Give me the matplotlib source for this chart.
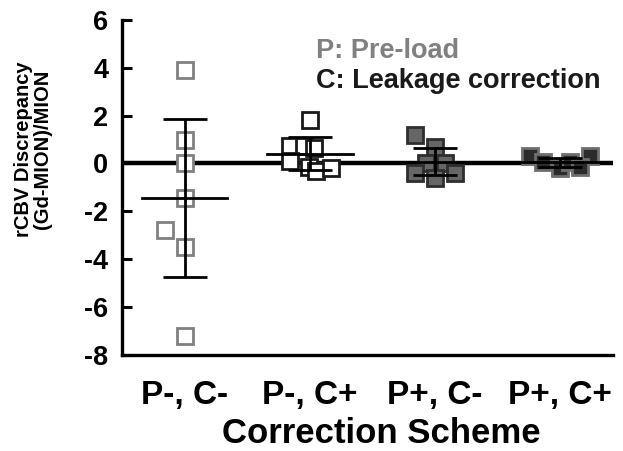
"""Scatter of rCBV discrepancy per correction scheme, with mean and SD bars."""

import matplotlib
matplotlib.use("Agg")
import matplotlib.pyplot as plt

plt.rcParams["font.family"] = ["Liberation Sans", "DejaVu Sans"]
plt.rcParams["font.weight"] = "bold"
plt.rcParams["axes.labelweight"] = "bold"
plt.rcParams["axes.unicode_minus"] = False

SCHEMES = ["P-, C-", "P-, C+", "P+, C-", "P+, C+"]

# individual subjects, with a small horizontal jitter as in the figure
VALUES = [
    [3.9, 1.0, 0.0, -1.45, -2.8, -3.5, -7.2],
    [1.8, 0.72, 0.72, 0.65, 0.1, -0.15, -0.3, -0.2],
    [1.2, 0.67, 0.0, 0.0, -0.4, -0.6, -0.4],
    [0.3, 0.05, -0.2, 0.05, 0.3, -0.15],
]
JITTER = [
    [0.0, 0.0, 0.0, 0.0, -0.16, 0.0, 0.0],
    [0.0, -0.16, -0.05, 0.03, -0.16, -0.01, 0.05, 0.17],
    [-0.16, 0.0, -0.07, 0.08, -0.16, 0.0, 0.16],
    [-0.24, -0.14, 0.0, 0.08, 0.24, 0.16],
]
MEANS = [-1.44, 0.41, 0.07, 0.04]
SDS = [3.3, 0.7, 0.57, 0.2]

FACE = ["white", "white", "#666666", "#2b2b2b"]
EDGE = ["#808080", "#1a1a1a", "#2e2e2e", "#6e6e6e"]


def main() -> None:
    fig = plt.figure(figsize=(6.23, 4.51), dpi=100)
    ax = fig.add_axes([0.196, 0.213, 0.788, 0.743])

    ax.axhline(0, color="black", lw=3.2, zorder=1)

    for i, (vals, jit) in enumerate(zip(VALUES, JITTER)):
        x0 = i + 1
        xs = [x0 + j for j in jit]
        ax.plot(xs, vals, ls="none", marker="s", ms=11, mfc=FACE[i],
                mec=EDGE[i], mew=2.0, zorder=2)
        ax.errorbar(x0, MEANS[i], yerr=SDS[i], fmt="none", ecolor="black",
                    elinewidth=2, capsize=16, capthick=2, zorder=3)
        ax.plot([x0 - 0.34, x0 + 0.34], [MEANS[i]] * 2, color="black",
                lw=2, zorder=3)

    ax.set_xlim(0.5, 4.42)
    ax.set_ylim(-8, 6)
    ax.set_yticks(range(-8, 7, 2))
    ax.set_xticks(range(1, 5), labels=SCHEMES)
    ax.tick_params(axis="y", direction="in", length=7, width=2.2,
                   labelsize=19.5, pad=10)
    ax.tick_params(axis="x", length=0, labelsize=24, pad=18)
    for side in ("top", "right"):
        ax.spines[side].set_visible(False)
    for side in ("left", "bottom"):
        ax.spines[side].set_linewidth(2.4)

    ax.set_xlabel("Correction Scheme", fontsize=25)
    ax.xaxis.set_label_coords(0.527, -0.186)
    fig.text(33 / 623, 1 - 149 / 451, "rCBV Discrepancy\n(Gd-MION)/MION",
             rotation=90, fontsize=14.5, ha="center", va="center",
             multialignment="center", linespacing=1.0)

    ax.text(0.395, 0.887, "P: Pre-load", transform=ax.transAxes,
            color="#808080", fontsize=19.5, va="baseline")
    ax.text(0.395, 0.797, "C: Leakage correction", transform=ax.transAxes,
            color="#1a1a1a", fontsize=19.5, va="baseline")

    fig.savefig("out.png")


if __name__ == "__main__":
    main()
